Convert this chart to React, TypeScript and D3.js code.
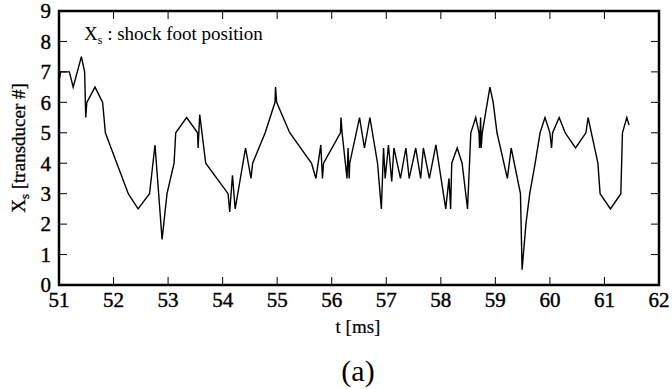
import React from 'react';
import * as d3 from 'd3';

// shock foot position vs time
const times = [
  51.0, 51.03, 51.19, 51.26, 51.41, 51.47, 51.49, 51.51, 51.66, 51.8, 51.85,
  52.27, 52.45, 52.66, 52.76, 52.89, 52.98, 53.11, 53.14, 53.34, 53.54, 53.55,
  53.58, 53.69, 54.1, 54.13, 54.18, 54.23, 54.42, 54.52, 54.55, 54.78, 54.96,
  54.97, 54.99, 55.23, 55.63, 55.71, 55.8, 55.83, 55.85, 56.16, 56.17, 56.19,
  56.28, 56.3, 56.32, 56.33, 56.51, 56.6, 56.7, 56.84, 56.91, 56.95, 56.98,
  57.04, 57.1, 57.14, 57.26, 57.36, 57.42, 57.54, 57.63, 57.68, 57.79, 57.91,
  58.09, 58.15, 58.18, 58.2, 58.3, 58.39, 58.49, 58.55, 58.64, 58.7, 58.71,
  58.73, 58.74, 58.76, 58.9, 58.96, 59.03, 59.22, 59.29, 59.46, 59.49, 59.56,
  59.63, 59.73, 59.82, 59.91, 60.0, 60.03, 60.05, 60.17, 60.28, 60.47, 60.66,
  60.7, 60.88, 60.92, 61.11, 61.3, 61.33, 61.41, 61.45,
];
const positions = [
  6.7, 7.0, 7.0, 6.5, 7.5, 7.0, 5.5, 6.0, 6.5, 6.0, 5.0,
  3.0, 2.5, 3.0, 4.6, 1.5, 3.0, 4.0, 5.0, 5.5, 5.0, 4.5,
  5.6, 4.0, 3.0, 2.4, 3.6, 2.5, 4.5, 3.5, 4.0, 5.0, 6.0,
  6.5, 6.0, 5.0, 4.0, 3.5, 4.6, 3.5, 4.0, 5.0, 5.5, 5.0,
  3.5, 4.5, 3.5, 4.0, 5.5, 4.5, 5.5, 4.0, 2.5, 4.5, 3.5,
  4.6, 3.4, 4.5, 3.5, 4.5, 3.5, 4.5, 3.5, 4.5, 3.5, 4.6,
  2.5, 3.5, 2.5, 4.0, 4.5, 4.0, 2.5, 5.0, 5.5, 5.0, 4.5,
  5.5, 4.5, 5.0, 6.5, 6.0, 5.0, 3.5, 4.5, 3.0, 0.5, 2.0,
  3.0, 4.0, 5.0, 5.5, 5.0, 4.5, 5.0, 5.5, 5.0, 4.5, 5.0,
  5.5, 4.0, 3.0, 2.5, 3.0, 5.0, 5.5, 5.25,
];
const xTicks = [51, 52, 53, 54, 55, 56, 57, 58, 59, 60, 61, 62];
const yTicks = [0, 1, 2, 3, 4, 5, 6, 7, 8, 9];

const W = 672;
const H = 389;
const left = 59, right = 659, top = 11, bottom = 285;
const serif = { fontFamily: "'Liberation Serif', 'DejaVu Serif', serif" };

export default function App() {
  const x = d3.scaleLinear().domain([51, 62]).range([left, right]);
  const y = d3.scaleLinear().domain([0, 9]).range([bottom, top]);
  const pts: [number, number][] = times.map((t, i) => [t, positions[i]]);
  const line = d3.line<[number, number]>().x(d => x(d[0])).y(d => y(d[1]));
  const tl = 8;

  return (
    <div style={{ position: 'absolute', left: 0, top: 0 }}>
      <svg width={W} height={H} style={{ display: 'block', background: '#fff' }}>
        {/* ticks, inward on all sides */}
        {xTicks.map(t => (
          <g key={'x' + t}>
            <line x1={x(t)} x2={x(t)} y1={bottom} y2={bottom - tl} stroke="#000" strokeWidth={1} />
            <line x1={x(t)} x2={x(t)} y1={top} y2={top + tl} stroke="#000" strokeWidth={1} />
            <text x={x(t)} y={307} textAnchor="middle" style={serif} fontSize={21} fill="#000" stroke="#000" strokeWidth={0.4}>{t}</text>
          </g>
        ))}
        {yTicks.map(v => (
          <g key={'y' + v}>
            <line x1={left} x2={left + tl} y1={y(v)} y2={y(v)} stroke="#000" strokeWidth={1} />
            <line x1={right} x2={right - tl} y1={y(v)} y2={y(v)} stroke="#000" strokeWidth={1} />
            <text x={left - 8} y={y(v)} dy="0.35em" textAnchor="end" style={serif} fontSize={21} fill="#000" stroke="#000" strokeWidth={0.4}>{v}</text>
          </g>
        ))}

        <path d={line(pts) || ''} fill="none" stroke="#000" strokeWidth={1.4} strokeLinejoin="miter" />

        <rect x={left} y={top} width={right - left} height={bottom - top} fill="none" stroke="#000" strokeWidth={2.5} />

        <text x={84} y={40} style={serif} fontSize={19} fill="#000">
          X<tspan fontSize={12} dy={4}>s</tspan><tspan dy={-4}> : shock foot position</tspan>
        </text>

        <text transform={`translate(25,${(top + bottom) / 2}) rotate(-90)`} textAnchor="middle" style={serif} fontSize={19} fill="#000" stroke="#000" strokeWidth={0.3}>
          X<tspan fontSize={13} dy={4}>s</tspan><tspan dy={-4}> [transducer #]</tspan>
        </text>

        <text x={358} y={333} textAnchor="middle" style={serif} fontSize={19} fill="#000" stroke="#000" strokeWidth={0.2}>t [ms]</text>
        <text x={358} y={381} textAnchor="middle" style={serif} fontSize={30} fill="#000">(a)</text>
      </svg>
    </div>
  );
}
